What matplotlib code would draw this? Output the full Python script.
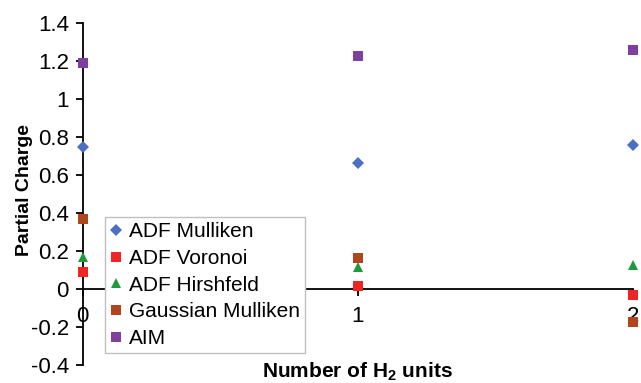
import matplotlib.pyplot as plt

# data
h2_units = [0, 1, 2]
adf_mulliken = [0.746, 0.664, 0.755]
adf_voronoi = [0.087, 0.017, -0.030]
adf_hirshfeld = [0.166, 0.115, 0.128]
gaussian_mulliken = [0.367, 0.162, -0.175]
aim = [1.188, 1.226, 1.258]

series = [
    ('ADF Mulliken', adf_mulliken, 'D', '#4a6fc4', 6),
    ('ADF Voronoi', adf_voronoi, 's', '#f02424', 6.5),
    ('ADF Hirshfeld', adf_hirshfeld, '^', '#1c9a3c', 7.5),
    ('Gaussian Mulliken', gaussian_mulliken, 's', '#b0461e', 6.5),
    ('AIM', aim, 's', '#7f3f9f', 6.5),
]

plt.rcParams.update({'font.family': 'Liberation Sans', 'font.size': 15,
                     'mathtext.fontset': 'custom',
                     'mathtext.bf': 'Liberation Sans:bold',
                     'mathtext.rm': 'Liberation Sans'})

fig = plt.figure(figsize=(6.41, 3.83), dpi=100)
ax = fig.add_axes([82.7 / 641, 1 - 365 / 383, (633 - 82.7) / 641, (365 - 22.7) / 383])

for name, vals, mk, col, ms in series:
    ax.plot(h2_units, vals, linestyle='none', marker=mk, color=col,
            markersize=ms, markeredgewidth=0, label=name, clip_on=False, zorder=3)

ax.set_xlim(0, 2)
ax.set_ylim(-0.4, 1.4)
ax.set_xticks([0, 1, 2])
ax.set_xticklabels(['0', '1', '2'])
ax.set_yticks([-0.4, -0.2, 0, 0.2, 0.4, 0.6, 0.8, 1, 1.2, 1.4])
ax.set_yticklabels(['-0.4', '-0.2', '0', '0.2', '0.4', '0.6', '0.8', '1', '1.2', '1.4'])

ax.spines['top'].set_visible(False)
ax.spines['right'].set_visible(False)
ax.spines['bottom'].set_position(('data', 0))
for s in ('left', 'bottom'):
    ax.spines[s].set_linewidth(1.3)
    ax.spines[s].set_color('black')
ax.tick_params(axis='both', direction='out', length=5, width=1.3, colors='black',
               labelsize=16)
ax.tick_params(axis='y', pad=5)
ax.tick_params(axis='x', pad=7)

ax.set_ylabel('Partial Charge', fontweight='bold', fontsize=14)
ax.yaxis.set_label_coords(-0.09, 0.511)
ax.set_xlabel(r'Number of $\mathbf{H_2}$ units', fontweight='bold', fontsize=15)
ax.xaxis.set_label_coords(0.5, -0.019)
ax.xaxis.label.set_verticalalignment('center')

leg = ax.legend(loc='upper left', bbox_to_anchor=(105 / 641, 1 - 217 / 383),
                bbox_transform=fig.transFigure, borderaxespad=0, fontsize=15,
                frameon=True, fancybox=False, framealpha=1, edgecolor='#c0c0c0',
                labelspacing=0.37, handlelength=0.6, handletextpad=0.3,
                borderpad=0.25)
leg.get_frame().set_linewidth(1)
leg.set_zorder(5)

plt.savefig('out.png', dpi=100)
